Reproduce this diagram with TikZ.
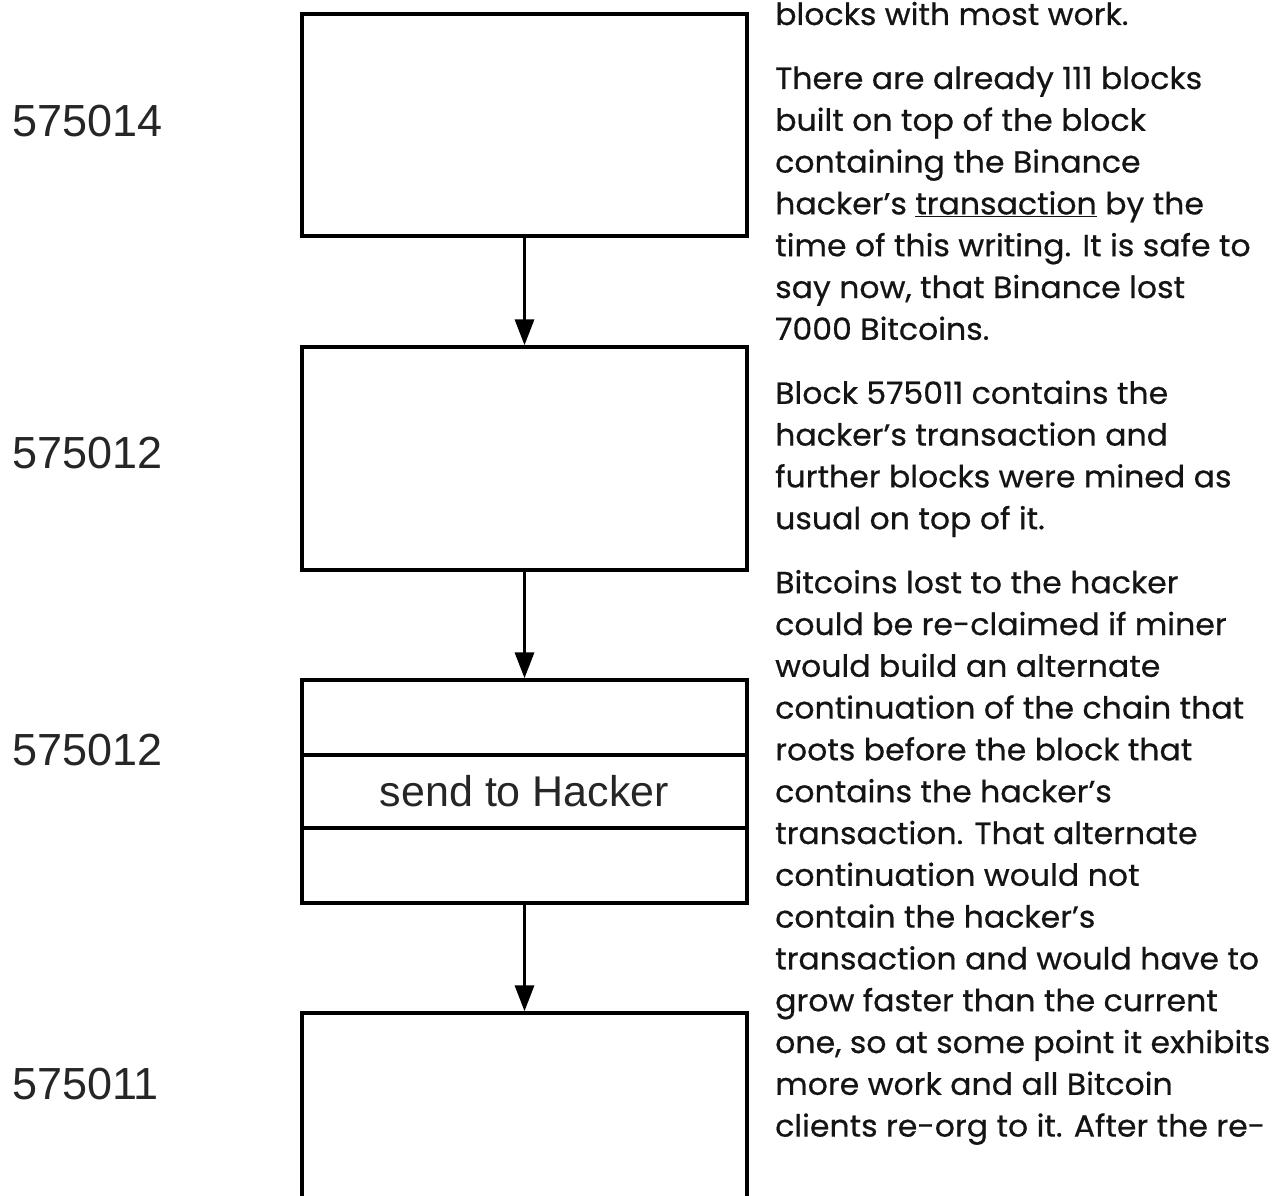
\documentclass[tikz,border=0pt]{standalone}
\usepackage{fontspec}
\setmainfont{Liberation Sans}
\newfontfamily\parafont[FakeStretch=1.035,FakeBold=0.6]{Poppins}
\usetikzlibrary{arrows.meta}
\begin{document}
\begin{tikzpicture}[x=1pt,y=-1pt,
  blk/.style={draw=black, line width=3.4pt, rectangle, inner sep=0pt, minimum width=445pt},
  lbl/.style={font=\fontsize{45}{50}\selectfont, anchor=west, inner sep=0pt, text=black!85},
  para/.style={font=\parafont\fontsize{30.5}{40}\selectfont, anchor=base west, inner sep=0pt, text=black!92},
  arr/.style={line width=3.4pt, -{Triangle[width=19pt,length=26pt]}}]
\useasboundingbox (0,0) rectangle (1277,1196);
% blocks
\node[blk, minimum height=222pt] (b1) at (524.5,125) {};
\node[blk, minimum height=223pt] (b2) at (524.5,458.5) {};
\node[blk, minimum height=75pt] (r1) at (524.5,717.5) {};
\node[blk, minimum height=73pt, font=\fontsize{43}{48}\selectfont, text=black!85] (r2) at (524.5,791.5) {send to Hacker};
\node[blk, minimum height=75pt] (r3) at (524.5,865.5) {};
\node[blk, minimum height=222pt] (b4) at (524.5,1124) {};
% connectors
\draw[arr] (b1.south) -- (b2.north);
\draw[arr] (b2.south) -- (r1.north);
\draw[arr] (r3.south) -- (b4.north);
% labels
\node[lbl] (l1) at (12,121.5) {575014};
\node[lbl] (l2) at (12,453.5) {575012};
\node[lbl] (l3) at (12,750.5) {575012};
\node[lbl] (l4) at (12,1083.5) {575011};
% text
\node[para] (t0) at (775,25) {blocks with most work.};
\node[para] (t1) at (775,89) {There are already 111 blocks};
\node[para] (t2) at (775,130.8) {built on top of the block};
\node[para] (t3) at (775,172.6) {containing the Binance};
\node[para] (t4) at (775,214.4) {hacker’s \underline{transaction} by the};
\node[para] (t5) at (775,256.2) {time of this writing. It is safe to};
\node[para] (t6) at (775,298) {say now, that Binance lost};
\node[para] (t7) at (775,339.8) {7000 Bitcoins.};
\node[para] (t8) at (775,403.8) {Block 575011 contains the};
\node[para] (t9) at (775,445.6) {hacker’s transaction and};
\node[para] (t10) at (775,487.4) {further blocks were mined as};
\node[para] (t11) at (775,529.2) {usual on top of it.};
\node[para] (t12) at (775,593.2) {Bitcoins lost to the hacker};
\node[para] (t13) at (775,635) {could be re-claimed if miner};
\node[para] (t14) at (775,676.8) {would build an alternate};
\node[para] (t15) at (775,718.6) {continuation of the chain that};
\node[para] (t16) at (775,760.4) {roots before the block that};
\node[para] (t17) at (775,802.2) {contains the hacker’s};
\node[para] (t18) at (775,844) {transaction. That alternate};
\node[para] (t19) at (775,885.8) {continuation would not};
\node[para] (t20) at (775,927.6) {contain the hacker’s};
\node[para] (t21) at (775,969.4) {transaction and would have to};
\node[para] (t22) at (775,1011.2) {grow faster than the current};
\node[para] (t23) at (775,1053) {one, so at some point it exhibits};
\node[para] (t24) at (775,1094.8) {more work and all Bitcoin};
\node[para] (t25) at (775,1136.6) {clients re-org to it. After the re-};
\end{tikzpicture}
\end{document}
